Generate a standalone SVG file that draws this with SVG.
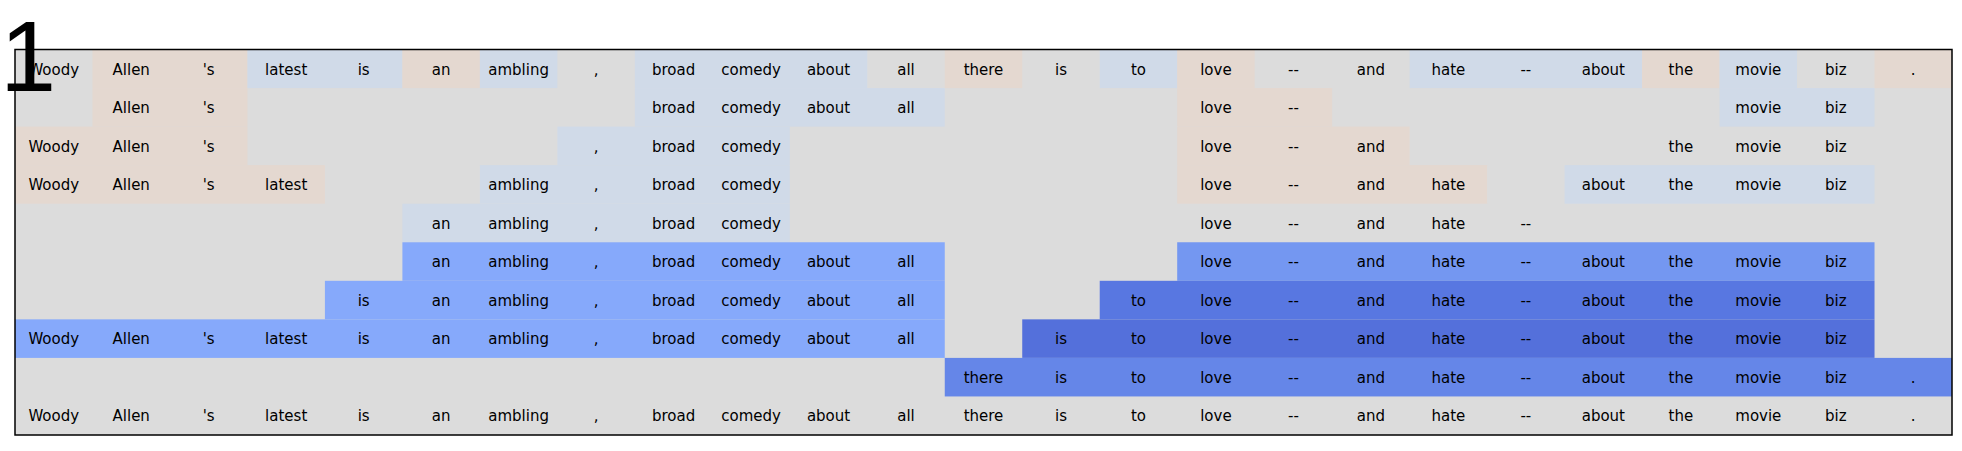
<svg xmlns="http://www.w3.org/2000/svg" width="1962" height="451" viewBox="0 0 1962 451">
<style>
.g{fill:#dcdcdc}.p{fill:#e4d8d0}.lb{fill:#d0dae8}.b1{fill:#86a9fb}.b2{fill:#7497f1}.b3{fill:#5877e1}.b4{fill:#5470db}.b5{fill:#6586e8}
.t text{font-family:"DejaVu Sans",sans-serif;font-size:15px;fill:#000;text-anchor:middle}
</style>
<rect id="background" x="0" y="0" width="1962" height="451" fill="#fff"/>
<rect id="grid-bg" class="g" x="15" y="49.5" width="1937" height="385.5"/>
<g id="row0" class="t">
<rect class="p" x="92.48" y="49.5" width="154.96" height="38.55"/>
<rect class="lb" x="247.44" y="49.5" width="154.96" height="38.55"/>
<rect class="p" x="402.4" y="49.5" width="77.48" height="38.55"/>
<rect class="lb" x="479.88" y="49.5" width="77.48" height="38.55"/>
<rect class="lb" x="634.84" y="49.5" width="232.44" height="38.55"/>
<rect class="p" x="944.76" y="49.5" width="77.48" height="38.55"/>
<rect class="lb" x="1099.72" y="49.5" width="77.48" height="38.55"/>
<rect class="p" x="1177.2" y="49.5" width="77.48" height="38.55"/>
<rect class="lb" x="1409.64" y="49.5" width="232.44" height="38.55"/>
<rect class="p" x="1642.08" y="49.5" width="77.48" height="38.55"/>
<rect class="lb" x="1719.56" y="49.5" width="77.48" height="38.55"/>
<rect class="p" x="1874.52" y="49.5" width="77.48" height="38.55"/>
<text x="53.74" y="74.5">Woody</text><text x="131.22" y="74.5">Allen</text><text x="208.7" y="74.5">'s</text><text x="286.18" y="74.5">latest</text><text x="363.66" y="74.5">is</text><text x="441.14" y="74.5">an</text><text x="518.62" y="74.5">ambling</text><text x="596.1" y="74.5">,</text><text x="673.58" y="74.5">broad</text><text x="751.06" y="74.5">comedy</text><text x="828.54" y="74.5">about</text><text x="906.02" y="74.5">all</text><text x="983.5" y="74.5">there</text><text x="1060.98" y="74.5">is</text><text x="1138.46" y="74.5">to</text><text x="1215.94" y="74.5">love</text><text x="1293.42" y="74.5">--</text><text x="1370.9" y="74.5">and</text><text x="1448.38" y="74.5">hate</text><text x="1525.86" y="74.5">--</text><text x="1603.34" y="74.5">about</text><text x="1680.82" y="74.5">the</text><text x="1758.3" y="74.5">movie</text><text x="1835.78" y="74.5">biz</text><text x="1913.26" y="74.5">.</text>
</g>
<g id="row1" class="t">
<rect class="p" x="92.48" y="88.05" width="154.96" height="38.55"/>
<rect class="lb" x="634.84" y="88.05" width="309.92" height="38.55"/>
<rect class="p" x="1177.2" y="88.05" width="154.96" height="38.55"/>
<rect class="lb" x="1719.56" y="88.05" width="154.96" height="38.55"/>
<text x="131.22" y="113.05">Allen</text><text x="208.7" y="113.05">'s</text><text x="673.58" y="113.05">broad</text><text x="751.06" y="113.05">comedy</text><text x="828.54" y="113.05">about</text><text x="906.02" y="113.05">all</text><text x="1215.94" y="113.05">love</text><text x="1293.42" y="113.05">--</text><text x="1758.3" y="113.05">movie</text><text x="1835.78" y="113.05">biz</text>
</g>
<g id="row2" class="t">
<rect class="p" x="15" y="126.6" width="232.44" height="38.55"/>
<rect class="lb" x="557.36" y="126.6" width="232.44" height="38.55"/>
<rect class="p" x="1177.2" y="126.6" width="232.44" height="38.55"/>
<text x="53.74" y="151.6">Woody</text><text x="131.22" y="151.6">Allen</text><text x="208.7" y="151.6">'s</text><text x="596.1" y="151.6">,</text><text x="673.58" y="151.6">broad</text><text x="751.06" y="151.6">comedy</text><text x="1215.94" y="151.6">love</text><text x="1293.42" y="151.6">--</text><text x="1370.9" y="151.6">and</text><text x="1680.82" y="151.6">the</text><text x="1758.3" y="151.6">movie</text><text x="1835.78" y="151.6">biz</text>
</g>
<g id="row3" class="t">
<rect class="p" x="15" y="165.15" width="309.92" height="38.55"/>
<rect class="lb" x="479.88" y="165.15" width="309.92" height="38.55"/>
<rect class="p" x="1177.2" y="165.15" width="309.92" height="38.55"/>
<rect class="lb" x="1564.6" y="165.15" width="309.92" height="38.55"/>
<text x="53.74" y="190.15">Woody</text><text x="131.22" y="190.15">Allen</text><text x="208.7" y="190.15">'s</text><text x="286.18" y="190.15">latest</text><text x="518.62" y="190.15">ambling</text><text x="596.1" y="190.15">,</text><text x="673.58" y="190.15">broad</text><text x="751.06" y="190.15">comedy</text><text x="1215.94" y="190.15">love</text><text x="1293.42" y="190.15">--</text><text x="1370.9" y="190.15">and</text><text x="1448.38" y="190.15">hate</text><text x="1603.34" y="190.15">about</text><text x="1680.82" y="190.15">the</text><text x="1758.3" y="190.15">movie</text><text x="1835.78" y="190.15">biz</text>
</g>
<g id="row4" class="t">
<rect class="lb" x="402.4" y="203.7" width="387.4" height="38.55"/>
<text x="441.14" y="228.7">an</text><text x="518.62" y="228.7">ambling</text><text x="596.1" y="228.7">,</text><text x="673.58" y="228.7">broad</text><text x="751.06" y="228.7">comedy</text><text x="1215.94" y="228.7">love</text><text x="1293.42" y="228.7">--</text><text x="1370.9" y="228.7">and</text><text x="1448.38" y="228.7">hate</text><text x="1525.86" y="228.7">--</text>
</g>
<g id="row5" class="t">
<rect class="b1" x="402.4" y="242.25" width="542.36" height="38.55"/>
<rect class="b2" x="1177.2" y="242.25" width="697.32" height="38.55"/>
<text x="441.14" y="267.25">an</text><text x="518.62" y="267.25">ambling</text><text x="596.1" y="267.25">,</text><text x="673.58" y="267.25">broad</text><text x="751.06" y="267.25">comedy</text><text x="828.54" y="267.25">about</text><text x="906.02" y="267.25">all</text><text x="1215.94" y="267.25">love</text><text x="1293.42" y="267.25">--</text><text x="1370.9" y="267.25">and</text><text x="1448.38" y="267.25">hate</text><text x="1525.86" y="267.25">--</text><text x="1603.34" y="267.25">about</text><text x="1680.82" y="267.25">the</text><text x="1758.3" y="267.25">movie</text><text x="1835.78" y="267.25">biz</text>
</g>
<g id="row6" class="t">
<rect class="b1" x="324.92" y="280.8" width="619.84" height="38.55"/>
<rect class="b3" x="1099.72" y="280.8" width="774.8" height="38.55"/>
<text x="363.66" y="305.8">is</text><text x="441.14" y="305.8">an</text><text x="518.62" y="305.8">ambling</text><text x="596.1" y="305.8">,</text><text x="673.58" y="305.8">broad</text><text x="751.06" y="305.8">comedy</text><text x="828.54" y="305.8">about</text><text x="906.02" y="305.8">all</text><text x="1138.46" y="305.8">to</text><text x="1215.94" y="305.8">love</text><text x="1293.42" y="305.8">--</text><text x="1370.9" y="305.8">and</text><text x="1448.38" y="305.8">hate</text><text x="1525.86" y="305.8">--</text><text x="1603.34" y="305.8">about</text><text x="1680.82" y="305.8">the</text><text x="1758.3" y="305.8">movie</text><text x="1835.78" y="305.8">biz</text>
</g>
<g id="row7" class="t">
<rect class="b1" x="15" y="319.35" width="929.76" height="38.55"/>
<rect class="b4" x="1022.24" y="319.35" width="852.28" height="38.55"/>
<text x="53.74" y="344.35">Woody</text><text x="131.22" y="344.35">Allen</text><text x="208.7" y="344.35">'s</text><text x="286.18" y="344.35">latest</text><text x="363.66" y="344.35">is</text><text x="441.14" y="344.35">an</text><text x="518.62" y="344.35">ambling</text><text x="596.1" y="344.35">,</text><text x="673.58" y="344.35">broad</text><text x="751.06" y="344.35">comedy</text><text x="828.54" y="344.35">about</text><text x="906.02" y="344.35">all</text><text x="1060.98" y="344.35">is</text><text x="1138.46" y="344.35">to</text><text x="1215.94" y="344.35">love</text><text x="1293.42" y="344.35">--</text><text x="1370.9" y="344.35">and</text><text x="1448.38" y="344.35">hate</text><text x="1525.86" y="344.35">--</text><text x="1603.34" y="344.35">about</text><text x="1680.82" y="344.35">the</text><text x="1758.3" y="344.35">movie</text><text x="1835.78" y="344.35">biz</text>
</g>
<g id="row8" class="t">
<rect class="b5" x="944.76" y="357.9" width="1007.24" height="38.55"/>
<text x="983.5" y="382.9">there</text><text x="1060.98" y="382.9">is</text><text x="1138.46" y="382.9">to</text><text x="1215.94" y="382.9">love</text><text x="1293.42" y="382.9">--</text><text x="1370.9" y="382.9">and</text><text x="1448.38" y="382.9">hate</text><text x="1525.86" y="382.9">--</text><text x="1603.34" y="382.9">about</text><text x="1680.82" y="382.9">the</text><text x="1758.3" y="382.9">movie</text><text x="1835.78" y="382.9">biz</text><text x="1913.26" y="382.9">.</text>
</g>
<g id="row9" class="t">
<text x="53.74" y="421.45">Woody</text><text x="131.22" y="421.45">Allen</text><text x="208.7" y="421.45">'s</text><text x="286.18" y="421.45">latest</text><text x="363.66" y="421.45">is</text><text x="441.14" y="421.45">an</text><text x="518.62" y="421.45">ambling</text><text x="596.1" y="421.45">,</text><text x="673.58" y="421.45">broad</text><text x="751.06" y="421.45">comedy</text><text x="828.54" y="421.45">about</text><text x="906.02" y="421.45">all</text><text x="983.5" y="421.45">there</text><text x="1060.98" y="421.45">is</text><text x="1138.46" y="421.45">to</text><text x="1215.94" y="421.45">love</text><text x="1293.42" y="421.45">--</text><text x="1370.9" y="421.45">and</text><text x="1448.38" y="421.45">hate</text><text x="1525.86" y="421.45">--</text><text x="1603.34" y="421.45">about</text><text x="1680.82" y="421.45">the</text><text x="1758.3" y="421.45">movie</text><text x="1835.78" y="421.45">biz</text><text x="1913.26" y="421.45">.</text>
</g>
<rect id="frame" x="15" y="49.5" width="1937" height="385.5" fill="none" stroke="#000" stroke-width="1.5"/>
<text id="panel-label" x="0" y="91" font-family="'Liberation Sans', Arial, sans-serif" font-size="101" fill="#000" style="font-family:'Liberation Sans',Arial,sans-serif;font-size:101px">1</text>
</svg>
